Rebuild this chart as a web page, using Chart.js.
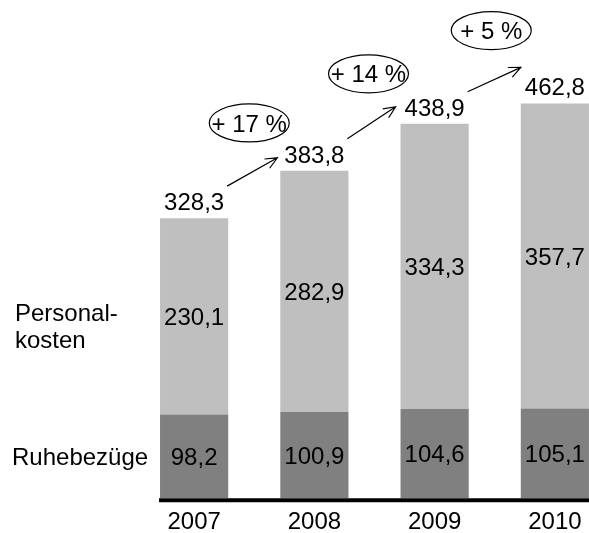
<!DOCTYPE html>
<html>
<head>
<meta charset="utf-8">
<script src="https://cdn.jsdelivr.net/npm/chart.js@4.4.1/dist/chart.umd.min.js"></script>
<style>
  html, body { margin: 0; padding: 0; background: #fff; }
  #wrap { width: 589px; height: 533px; overflow: hidden; position: relative; }
  canvas { display: block; }
</style>
</head>
<body>
<div id="wrap"><canvas id="c" width="616" height="533"></canvas></div>
<script>
const years = ['2007', '2008', '2009', '2010'];
const ruhebezuege = [98.2, 100.9, 104.6, 105.1];
const personalkosten = [230.1, 282.9, 334.3, 357.7];
const totals = [328.3, 383.8, 438.9, 462.8];
const growthLabels = ['+ 17 %', '+ 14 %', '+ 5 %'];
const seriesNames = ['Ruhebezüge', ['Personal-', 'kosten']];

const FONT = '"Liberation Sans", Arial, sans-serif';
const FS = 24;
const fmt = v => v.toFixed(1).replace('.', ',');

const annotate = {
  id: 'annotate',
  afterDatasetsDraw(chart) {
    const ctx = chart.ctx;
    const xs = chart.scales.x, ys = chart.scales.y;
    const m0 = chart.getDatasetMeta(0), m1 = chart.getDatasetMeta(1);
    const y0 = ys.getPixelForValue(0);
    ctx.save();
    const firstBar = m0.data[0];
    ctx.strokeStyle = '#000';
    ctx.lineWidth = 4;
    ctx.beginPath();
    ctx.moveTo(firstBar.x - firstBar.width / 2 - 1, y0 + 2);
    ctx.lineTo(chart.chartArea.right, y0 + 2);
    ctx.stroke();

    ctx.fillStyle = '#000';
    ctx.font = FS + 'px ' + FONT;
    ctx.textAlign = 'center';
    ctx.textBaseline = 'alphabetic';
    const dy = FS * 0.358;
    [m0, m1].forEach((meta, di) => {
      const data = chart.data.datasets[di].data;
      meta.data.forEach((bar, i) => {
        const cy = (bar.y + bar.base) / 2;
        ctx.fillText(fmt(data[i]), bar.x, cy + dy);
      });
    });
    const tops = [];
    totals.forEach((t, i) => {
      const x = xs.getPixelForValue(i);
      const y = ys.getPixelForValue(t);
      tops.push({ x, y });
      ctx.fillText(fmt(t), x, y - 8);
    });
    ctx.textAlign = 'left';
    const b0 = m0.data[0], b1 = m1.data[0];
    ctx.fillText(seriesNames[0], 12, (b0.y + b0.base) / 2 + dy);
    const lc = (b1.y + b1.base) / 2;
    ctx.fillText(seriesNames[1][0], 15, lc + 5);
    ctx.fillText(seriesNames[1][1], 15, lc + 32);

    const endOff = [[-37, -13], [-39, -17], [-34, -36]];
    growthLabels.forEach((lab, i) => {
      const sx = tops[i].x + 33, sy = tops[i].y - 32;
      const ex = tops[i + 1].x + endOff[i][0], ey = tops[i + 1].y + endOff[i][1];
      ctx.lineWidth = 1.2;
      ctx.beginPath();
      ctx.moveTo(sx, sy);
      ctx.lineTo(ex, ey);
      const ang = Math.atan2(ey - sy, ex - sx);
      const h = 13, spread = 0.42;
      ctx.moveTo(ex - h * Math.cos(ang - spread), ey - h * Math.sin(ang - spread));
      ctx.lineTo(ex, ey);
      ctx.lineTo(ex - h * Math.cos(ang + spread), ey - h * Math.sin(ang + spread));
      ctx.stroke();
      const cx = (sx + ex) / 2 - 3, cy = (sy + ey) / 2 - 49;
      ctx.beginPath();
      ctx.ellipse(cx, cy, 40, 19, 0, 0, Math.PI * 2);
      ctx.stroke();
      ctx.textAlign = 'center';
      ctx.fillText(lab, cx, cy + dy);
    });
    ctx.restore();
  }
};

new Chart(document.getElementById('c'), {
  type: 'bar',
  data: {
    labels: years,
    datasets: [
      { label: 'Ruhebezüge', data: ruhebezuege, backgroundColor: '#808080' },
      { label: 'Personalkosten', data: personalkosten, backgroundColor: '#bfbfbf' }
    ]
  },
  options: {
    responsive: false,
    animation: false,
    devicePixelRatio: 1,
    layout: { padding: { left: 134, right: 1, top: 0, bottom: -14 } },
    plugins: { legend: { display: false }, tooltip: { enabled: false } },
    datasets: { bar: { barPercentage: 0.567, categoryPercentage: 1 } },
    scales: {
      x: {
        stacked: true,
        grid: { display: false, drawTicks: false },
        border: { display: false },
        ticks: { color: '#000', font: { family: FONT, size: FS }, padding: 10, maxRotation: 0 }
      },
      y: {
        stacked: true,
        display: false,
        min: 0,
        max: 584
      }
    }
  },
  plugins: [annotate]
});
</script>
</body>
</html>
